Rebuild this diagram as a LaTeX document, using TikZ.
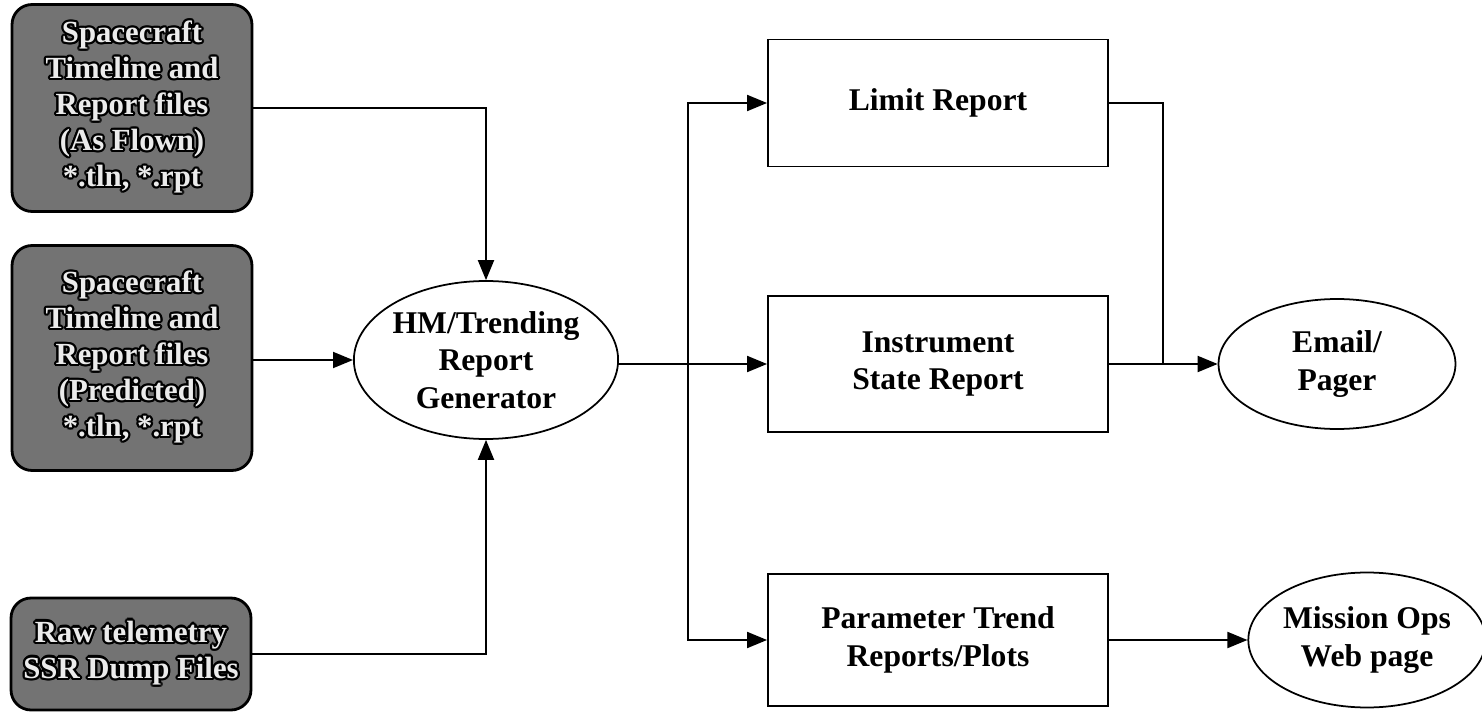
\documentclass[tikz,border=0pt]{standalone}
\usepackage{fontspec}
\setmainfont{Liberation Serif}
\usepackage[copies]{contour}
\contourlength{1.3pt}
\contournumber{12}
\usetikzlibrary{arrows.meta,shapes.geometric}
\newcommand{\srcline}[1]{\contour{black}{#1}}
\begin{document}
\begin{tikzpicture}[x=0.02cm, y=-0.02cm,
	every node/.style = {font=\bfseries\fontsize{18}{21.5}\selectfont, align=center},
	srcbox/.style = {draw=black, line width=1.6pt, rounded corners=0.4cm, fill=black!55, text=black!8,
		minimum width=4.8cm, font=\bfseries\fontsize{17.5}{20.5}\selectfont},
	outbox/.style = {draw=black, line width=1.1pt, minimum width=6.8cm},
	oval/.style = {draw=black, line width=1pt, ellipse, inner sep=0pt},
	arr/.style = {line width=1.1pt, -{Triangle[length=0.4cm, width=0.32cm]}},
	ln/.style = {line width=1.1pt}]
	\useasboundingbox (0,0) rectangle (1482,713);

	% input files
	\node[srcbox, minimum height=4.14cm] (src1) at (132,108) {\srcline{Spacecraft}\\\srcline{Timeline and}\\\srcline{Report files}\\\srcline{(As Flown)}\\\srcline{*.tln, *.rpt}};
	\node[srcbox, minimum height=4.5cm] (src2) at (132,358) {\srcline{Spacecraft}\\\srcline{Timeline and}\\\srcline{Report files}\\\srcline{(Predicted)}\\\srcline{*.tln, *.rpt}};
	\node[srcbox, minimum height=2.24cm] (src3) at (131,654) {\srcline{Raw telemetry}\\\srcline{SSR Dump Files}};

	% generator
	\node[oval, minimum width=4.84cm, minimum height=3.16cm] (gen) at (486,360) {HM/Trending\\Report\\Generator};

	% reports
	\node[outbox, minimum height=2.54cm] (lim) at (938,103) {Limit Report};
	\node[outbox, minimum height=2.72cm] (inst) at (938,364) {Instrument\\State Report};
	\node[outbox, minimum height=2.64cm] (par) at (938,640) {Parameter Trend\\Reports/Plots};

	% outputs
	\node[oval, minimum width=4.74cm, minimum height=2.6cm] (mail) at (1337,364) {Email/\\Pager};
	\node[oval, minimum width=4.68cm, minimum height=2.7cm] (web) at (1367,640) {Mission Ops\\Web page};

	\coordinate (split) at (688,364);
	\coordinate (join) at (1163,364);

	\draw[arr] (src1.east) -| (gen.north);
	\draw[arr] (src2.east |- gen.west) -- (gen.west);
	\draw[arr] (src3.east) -| (gen.south);
	\draw[ln] (gen.east |- split) -- (split);
	\draw[arr] (split) -- (inst.west);
	\draw[arr] (split) |- (lim.west);
	\draw[arr] (split) |- (par.west);
	\draw[ln] (lim.east) -| (join);
	\draw[arr] (inst.east) -- (mail.west);
	\draw[arr] (par.east) -- (web.west);
\end{tikzpicture}
\end{document}
